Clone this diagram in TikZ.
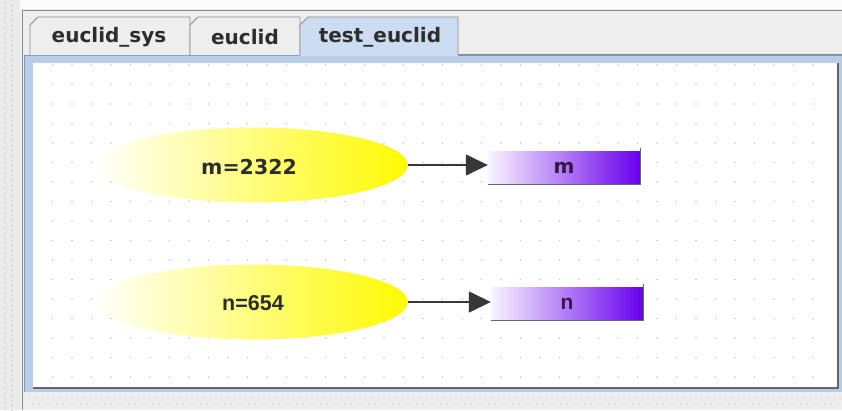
\documentclass[tikz,border=0pt]{standalone}
\usepackage{fontspec}
\setmainfont{Liberation Sans}
\newfontfamily\dejabold{DejaVu Sans}[BoldFont={DejaVu Sans Bold}]
\usetikzlibrary{arrows.meta,calc,shapes.geometric}
\definecolor{bgray}{RGB}{238,238,238}
\definecolor{framegray}{RGB}{140,140,140}
\definecolor{tabsel}{RGB}{204,221,242}
\definecolor{panelblue}{RGB}{184,205,232}
\definecolor{panelline}{RGB}{122,150,190}
\definecolor{dotgray}{RGB}{200,200,200}
\definecolor{txtgray}{RGB}{45,45,45}
\definecolor{yel}{RGB}{255,250,0}
\definecolor{lav}{RGB}{250,244,255}
\definecolor{purp}{RGB}{104,0,236}
\definecolor{purptxt}{RGB}{55,20,75}
\definecolor{arrowgray}{RGB}{55,55,55}
\tikzset{
  tabshape/.style={draw=framegray, line width=0.8pt},
  tabtext/.style={font=\dejabold\bfseries\fontsize{20}{24}\selectfont, text=txtgray, inner sep=0pt},
  oval/.style={ellipse, minimum width=310pt, minimum height=75pt, inner sep=0pt,
    left color=yel!2, middle color=yel!75, right color=yel, shading angle=90},
  valtext/.style={text=txtgray},
  varbox/.style={rectangle, minimum width=152pt, minimum height=33pt, inner sep=0pt,
    left color=lav, right color=purp, text=purptxt},
  edgeline/.style={draw=black!60, line width=1.2pt},
  link/.style={draw=arrowgray, line width=1.5pt, -{Triangle[length=22pt,width=21pt]}},
  dot/.style={fill=dotgray, draw=none}
}
\begin{document}
\begin{tikzpicture}[x=1pt,y=-1pt]
\useasboundingbox (0,0) rectangle (842,410);
% background
\fill[bgray] (0,0) rectangle (842,410);
\fill[white!97!gray] (0,0) rectangle (842,9);
% left strip dots
\fill[black!8] (0,0) rectangle (20,410);
\foreach \yy in {3,8,...,408} {
  \fill[black!35] (5,\yy) circle (0.7);
  \fill[black!35] (12,\yy+2.5) circle (0.7);
}
% bottom strip dots
\foreach \xx in {30,36,...,840} {
  \fill[black!30] (\xx,398) circle (0.6);
  \fill[black!30] (\xx+3,404) circle (0.6);
}
% outer frame lines
\draw[framegray, line width=0.8pt] (22,10) -- (842,10);
\draw[framegray, line width=0.8pt] (22,10) -- (22,410);
\draw[framegray, line width=0.8pt] (458,54) -- (842,54);
% panel
\fill[panelblue] (24,55) rectangle (842,392);
\draw[panelline, line width=0.8pt] (24,392) -- (24,55) -- (842,55);
\fill[white] (33,63) rectangle (838,388);
\draw[black!60, line width=1.2pt] (33,388) -- (838,388) -- (838,63);
% grid dots
\foreach \xx in {52.5,72,...,830} {
  \foreach \yy in {65,84.5,...,385} {
    \fill[dotgray] (\xx,\yy) circle (0.9);
  }
}
% tabs
\draw[tabshape, fill=bgray] (30,55) -- (30,25) -- (38,17) -- (190,17) -- (190,55);
\draw[tabshape, fill=bgray] (190,55) -- (190,25) -- (198,17) -- (300,17) -- (300,55);
\fill[tabsel] (300,56) -- (300,25) -- (308,17) -- (458,17) -- (458,56) -- cycle;
\draw[tabshape] (300,55) -- (300,25) -- (308,17) -- (458,17) -- (458,55);
\node[tabtext] (t1) at (109,37) {euclid\_sys};
\node[tabtext] (t2) at (245,37) {euclid};
\node[tabtext] (t3) at (380,37) {test\_euclid};
% ellipses
\node[oval] (e1) at (253,165) {};
\node[valtext, font=\dejabold\bfseries\fontsize{20.5}{24}\selectfont] (l1) at (249,167) {m=2322};
\node[oval] (e2) at (253,302) {};
\node[valtext, font=\bfseries\fontsize{21.5}{24}\selectfont] (l2) at (253,303) {n=654};
% boxes
\node[varbox, font=\dejabold\bfseries\fontsize{20}{24}\selectfont] (r1) at (564,168) {m};
\draw[edgeline] (r1.south west) -- (r1.south east) -- ([yshift=3pt]r1.north east);
\node[varbox, font=\bfseries\fontsize{21}{24}\selectfont] (r2) at (567,303.5) {n};
\draw[edgeline] (r2.south west) -- (r2.south east) -- ([yshift=3pt]r2.north east);
% arrows
\draw[link] (e1.east) -- (e1.east -| r1.west);
\draw[link] (e2.east) -- (e2.east -| r2.west);
\end{tikzpicture}
\end{document}
